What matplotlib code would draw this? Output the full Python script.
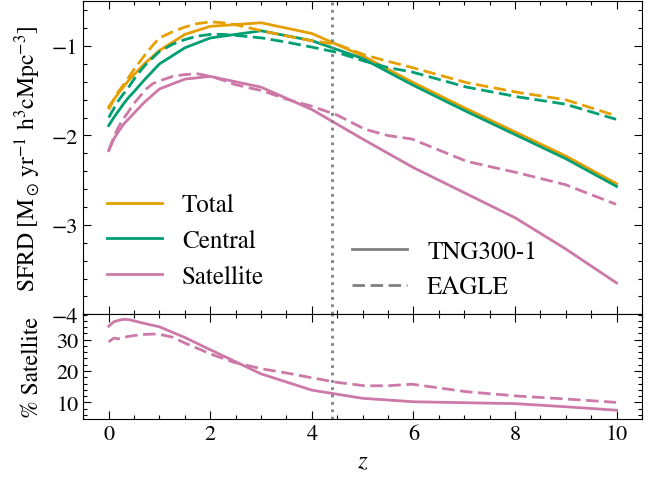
import matplotlib
matplotlib.use("Agg")
import matplotlib.pyplot as plt
from matplotlib.ticker import MultipleLocator

plt.rcParams["font.family"] = ["STIXGeneral", "DejaVu Serif"]
plt.rcParams["mathtext.fontset"] = "stix"

# TNG300-1 snapshots
z_tng = [0, 0.1, 0.2, 0.3, 0.4, 0.5, 0.7, 1.0, 1.5, 2.0, 3.0, 4.0, 5.0, 6.0, 7.0, 8.0, 9.0, 10.0]
tng_total = [-1.68, -1.60, -1.52, -1.45, -1.38, -1.32, -1.20, -1.05, -0.87, -0.78, -0.74, -0.86,
             -1.11, -1.41, -1.69, -1.96, -2.23, -2.54]
tng_central = [-1.89, -1.80, -1.72, -1.64, -1.57, -1.51, -1.38, -1.20, -1.02, -0.91, -0.83, -0.94,
               -1.14, -1.44, -1.72, -1.99, -2.26, -2.57]
tng_sat = [-2.17, -2.04, -1.95, -1.87, -1.81, -1.75, -1.63, -1.48, -1.37, -1.34, -1.46, -1.71,
           -2.04, -2.36, -2.64, -2.92, -3.27, -3.65]
tng_frac = [34.3, 35.7, 36.2, 36.5, 36.4, 36.0, 35.2, 34.1, 30.7, 26.8, 19.1, 13.9,
            11.3, 10.2, 9.9, 9.6, 8.6, 7.5]

# EAGLE snapshots
z_eagle = [0, 0.1, 0.18, 0.27, 0.37, 0.5, 0.62, 0.74, 0.87, 1.0, 1.26, 1.49, 1.74, 2.01, 2.24,
           2.48, 3.02, 3.53, 3.98, 4.49, 5.04, 5.49, 5.97, 7.05, 8.07, 8.99, 9.99]
eagle_total = [-1.71, -1.60, -1.52, -1.45, -1.37, -1.26, -1.17, -1.08, -0.99, -0.91, -0.84, -0.79,
               -0.75, -0.73, -0.74, -0.76, -0.83, -0.89, -0.94, -0.98, -1.10, -1.17, -1.24,
               -1.41, -1.52, -1.60, -1.78]
eagle_central = [-1.80, -1.70, -1.62, -1.55, -1.48, -1.37, -1.28, -1.20, -1.13, -1.06, -0.98, -0.93,
                 -0.89, -0.87, -0.87, -0.88, -0.91, -0.96, -1.01, -1.07, -1.17, -1.24, -1.29,
                 -1.46, -1.57, -1.65, -1.82]
eagle_sat = [-2.17, -2.02, -1.92, -1.83, -1.75, -1.64, -1.56, -1.48, -1.42, -1.39, -1.34, -1.32,
             -1.31, -1.34, -1.38, -1.43, -1.50, -1.60, -1.67, -1.77, -1.93, -2.00, -2.04,
             -2.29, -2.42, -2.55, -2.77]
eagle_frac = [29.3, 30.5, 30.3, 30.5, 31.0, 31.3, 31.6, 31.7, 31.8, 31.7, 30.8, 29.0, 27.3, 25.4,
              24.1, 22.7, 20.7, 19.3, 17.9, 16.4, 15.3, 15.3, 15.8, 13.4, 12.0, 11.1, 10.0]

z_mark = 4.39

c_total = "#E69F00"
c_central = "#009E73"
c_sat = "#CC79A7"
lw = 2.0
dash = (0, (4.5, 2.0))

fig = plt.figure(figsize=(6.62, 4.81), dpi=100)
W, H = 662.0, 481.0
ax1 = fig.add_axes([83.3 / W, (H - 315.3) / H, 558.7 / W, 313.0 / H])
ax2 = fig.add_axes([83.3 / W, (H - 420.0) / H, 558.7 / W, 104.7 / H], sharex=ax1)

# top panel: SFRD
l_tot, = ax1.plot(z_tng, tng_total, color=c_total, lw=lw, label="Total")
l_cen, = ax1.plot(z_tng, tng_central, color=c_central, lw=lw, label="Central")
l_sat, = ax1.plot(z_tng, tng_sat, color=c_sat, lw=lw, label="Satellite")
ax1.plot(z_eagle, eagle_total, color=c_total, lw=lw, ls=dash)
ax1.plot(z_eagle, eagle_central, color=c_central, lw=lw, ls=dash)
ax1.plot(z_eagle, eagle_sat, color=c_sat, lw=lw, ls=dash)
ax1.axvline(z_mark, color="grey", ls=":", lw=2.0)

leg1 = ax1.legend(handles=[l_tot, l_cen, l_sat], loc="center left",
                  bbox_to_anchor=(0.042, 0.234), frameon=False, fontsize=18,
                  handlelength=2.2, handletextpad=0.8, labelspacing=0.47,
                  borderpad=0, borderaxespad=0)
ax1.add_artist(leg1)
h_tng, = ax1.plot([], [], color="grey", lw=lw, label="TNG300-1")
h_eag, = ax1.plot([], [], color="grey", lw=lw, ls=dash, label="EAGLE")
ax1.legend(handles=[h_tng, h_eag], loc="center left", bbox_to_anchor=(0.481, 0.143),
           frameon=False, fontsize=18, handlelength=2.2, handletextpad=0.8,
           labelspacing=0.47, borderpad=0, borderaxespad=0)

ax1.set_xlim(-0.5, 10.5)
ax1.set_ylim(-4, -0.5)
ax1.yaxis.set_major_locator(MultipleLocator(1))
ax1.yaxis.set_minor_locator(MultipleLocator(0.2))
ax1.set_ylabel(r"SFRD [M$_\odot\,$yr$^{-1}$ h$^3$cMpc$^{-3}$]", fontsize=17)
ax1.tick_params(labelbottom=False)

# bottom panel: satellite fraction
ax2.plot(z_tng, tng_frac, color=c_sat, lw=lw)
ax2.plot(z_eagle, eagle_frac, color=c_sat, lw=lw, ls=dash)
ax2.axvline(z_mark, color="grey", ls=":", lw=2.0)
ax2.set_ylim(4.7, 38.1)
ax2.yaxis.set_major_locator(MultipleLocator(10))
ax2.yaxis.set_minor_locator(MultipleLocator(2))
ax2.xaxis.set_major_locator(MultipleLocator(2))
ax2.xaxis.set_minor_locator(MultipleLocator(0.5))
ax2.set_xlabel(r"$z$", fontsize=18)
ax2.set_ylabel(r"% Satellite", fontsize=17)

for ax in (ax1, ax2):
    ax.tick_params(which="both", direction="in", top=True, right=True, labelsize=16, width=0.8)
    ax.tick_params(which="major", length=5.5)
    ax.tick_params(which="minor", length=2.8)
    ax.yaxis.set_label_coords(-0.072, 0.5)

fig.savefig("out.png", dpi=100)
